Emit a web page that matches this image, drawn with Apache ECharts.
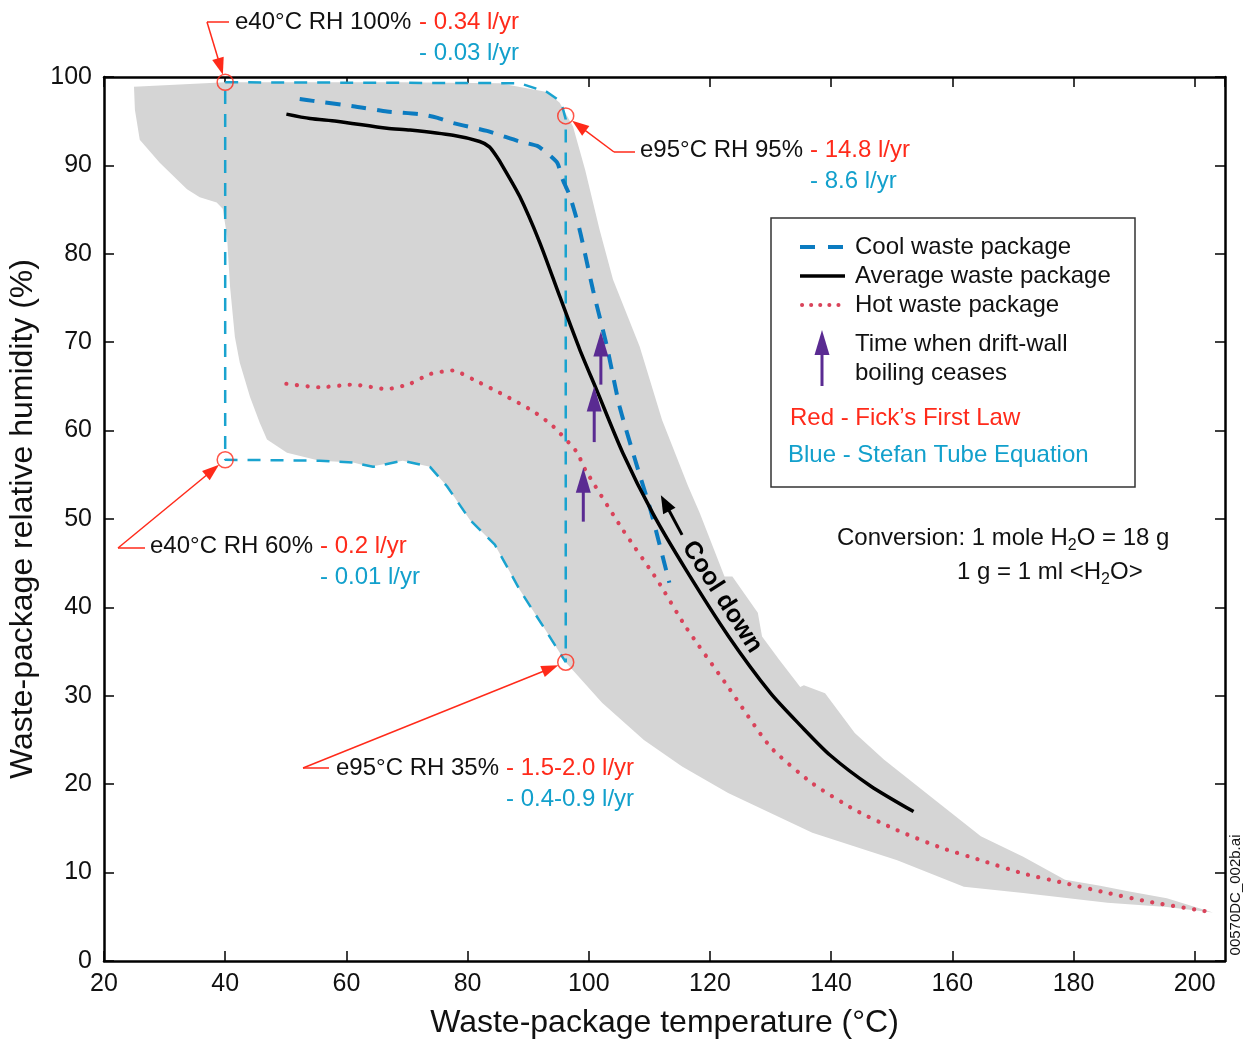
<!DOCTYPE html>
<html><head><meta charset="utf-8">
<script src="https://cdn.jsdelivr.net/npm/echarts@6/dist/echarts.min.js"></script>
<style>html,body{margin:0;padding:0;background:#fff}#c{width:1247px;height:1040px}</style>
</head><body><div id="c"></div>
<script>
// ---------- data ----------
const envelopeTemp = [24.95,40,68.8,85.3,93.1,95.2,97.4,99.4,101.8,104.0,108.4,112.1,116.4,118.3,122.4,123.7,127.9,128.6,131.4,134.9,135.5,139.0,143.9,148.7,156.4,164.7,171.7,178.6,184.4,189.0,195.4,203.0,
  195.4,185.6,171.7,161.9,150.9,136.9,123.0,115.4,109.1,102.2,96.2,92.8,88.6,84.5,80.4,76.6,73.8,69.3,63.9,61.1,55.6,50.2,46.9,45.7,44.1,42.4,41.6,40.8,40.3,39.6,38.6,35.8,33.7,29.2,25.9,25.1];
const envelopeRH = [98.9,99.4,99.4,99.3,98.3,97.1,94.4,89.5,82.7,77.1,69.5,61.2,53.7,50.7,43.5,43.5,39.4,36.7,34.1,31.0,31.2,30.3,25.8,22.8,18.6,14.1,11.8,9.2,8.5,7.9,7.1,5.5,
  6.1,6.6,7.7,8.4,11.4,14.5,19.0,22.0,25.0,29.2,33.8,37.5,42.0,47.1,49.9,53.7,55.9,56.6,55.9,56.4,56.6,57.5,59.0,60.9,63.8,67.7,70.6,76.3,82.0,85.1,85.8,86.4,87.3,90.3,92.9,96.3];

const boxTemp = [40,88.6,93.1,94.8,95.7,96.2,96.2,92.8,88.6,84.5,80.4,76.6,73.8,69.3,64.4,61.1,55.6,40,40];
const boxRH   = [99.4,99.3,98.3,97.5,96.5,95.2,33.8,37.5,42.0,47.1,49.9,53.7,55.9,56.6,55.9,56.4,56.6,56.7,99.4];

const coolTemp = [52.3,54.5,61.1,66.7,72.1,74.9,77.6,83.2,88.6,91.5,93.1,94.8,95.7,96.9,98.5,100.7,103.0,105.1,108.0,110.2,113.3];
const coolRH   = [97.5,97.3,96.7,96.1,95.8,95.4,94.8,93.9,92.7,92.2,91.4,90.3,88.4,86.5,82.7,75.9,69.5,62.7,55.9,51.0,42.8];

const avgTemp = [50.1,54.0,58.4,66.7,70.5,77.6,82.0,83.6,84.8,85.8,88.6,91.9,95.2,98.5,101.3,105.6,110.6,116.0,123.0,130.0,135.0,139.8,146.5,153.6];
const avgRH   = [95.8,95.3,95.0,94.2,94.0,93.4,92.7,92.1,91.0,89.9,86.5,81.3,75.2,69.2,64.6,57.5,50.6,44.3,36.8,30.3,26.6,23.3,19.8,16.9];

const hotTemp = [50.1,55.6,61.1,66.7,70.5,73.8,77.6,80.9,85.8,90.8,94.1,98.0,99.4,105.6,111.3,116.0,123.0,130.0,136.9,143.9,150.9,157.8,164.7,171.7,178.6,185.6,192.5,203.0];
const hotRH   = [65.3,64.9,65.2,64.7,65.3,66.4,66.8,65.8,64.1,62.2,60.5,57.6,55.6,48.8,43.1,37.8,31.0,24.2,20.1,17.1,14.8,12.9,11.4,9.9,8.8,7.7,6.7,5.5];

// time when drift-wall boiling ceases (arrows)
const boilTemp   = [102.0,100.9,99.1];
const boilTailRH = [65.2,58.7,49.7];
const boilTipRH  = [71.2,65.0,55.8];

// cool-down arrow
const coolDownTail = [115.4,48.2];
const coolDownTip  = [111.9,52.7];

// annotated points
const markerTemp = [40,96.2,40,96.2];
const markerRH   = [99.4,95.6,56.7,33.8];
const markerLabel = ['e40°C RH 100%','e95°C RH 95%','e40°C RH 60%','e95°C RH 35%'];
const fickRate   = ['- 0.34 l/yr','- 14.8 l/yr','- 0.2 l/yr','- 1.5-2.0 l/yr'];
const stefanRate = ['- 0.03 l/yr','- 8.6 l/yr','- 0.01 l/yr','- 0.4-0.9 l/yr'];

// ---------- styling ----------
const F = '"Liberation Sans", Arial, Helvetica, sans-serif';
const RED = '#ff2a1a', CYAN = '#12a0cc', BOX = '#1aa3cf', COOL = '#0b7bc0', HOT = '#d9435a', PURPLE = '#5a2b92';
const FS = 24;

const chart = echarts.init(document.getElementById('c'), null, {renderer:'canvas'});

function arrowRender(color, lw, hl, hw){
  return function(params, api){
    const p1 = api.coord([api.value(0), api.value(1)]);
    const p2 = api.coord([api.value(2), api.value(3)]);
    const dx=p2[0]-p1[0], dy=p2[1]-p1[1], L=Math.hypot(dx,dy), ux=dx/L, uy=dy/L;
    const bx=p2[0]-ux*hl, by=p2[1]-uy*hl;
    return {type:'group', children:[
      {type:'line', shape:{x1:p1[0],y1:p1[1],x2:bx+ux*2,y2:by+uy*2}, style:{stroke:color,lineWidth:lw}},
      {type:'polygon', shape:{points:[p2,[bx-uy*hw,by+ux*hw],[bx+uy*hw,by-ux*hw]]}, style:{fill:color}}
    ]};
  };
}

const axisLine = {show:true,onZero:false,lineStyle:{color:'#000',width:2.5}};
const axisTick = {show:true,inside:true,length:10,lineStyle:{color:'#000',width:1.5}};

const option = {
  animation:false,
  backgroundColor:'#fff',
  grid:{left:104,right:22,top:77,bottom:79,containLabel:false,outerBoundsMode:'none'},
  xAxis:[{
    type:'value',min:20,max:205,interval:20,position:'bottom',
    axisLine,axisTick,splitLine:{show:false},
    axisLabel:{fontSize:25,color:'#111',margin:11,fontFamily:F,showMaxLabel:false,formatter:v=>(v%20===0?String(v):'')},
    name:'Waste-package temperature (°C)',nameLocation:'middle',nameGap:46,
    nameTextStyle:{fontSize:32,color:'#111',fontFamily:F}
  },{
    type:'value',min:20,max:205,interval:20,position:'top',
    axisLine,axisTick,splitLine:{show:false},axisLabel:{show:false}
  }],
  yAxis:[{
    type:'value',min:0,max:100,interval:10,position:'left',
    axisLine,axisTick,splitLine:{show:false},
    axisLabel:{fontSize:25,color:'#111',margin:12,fontFamily:F},
    name:'Waste-package relative humidity (%)',nameLocation:'middle',nameGap:52,
    nameTextStyle:{fontSize:32,color:'#111',fontFamily:F}
  },{
    type:'value',min:0,max:100,interval:10,position:'right',
    axisLine,axisTick,splitLine:{show:false},axisLabel:{show:false}
  }],
  series:[
    {type:'custom',z:1,silent:true,
     data:envelopeTemp.map((t,i)=>[t,envelopeRH[i]]),encode:{x:0,y:1},
     renderItem:function(params,api){
       if(params.dataIndex!==0) return null;
       const pts = envelopeTemp.map((t,i)=>api.coord([t,envelopeRH[i]]));
       return {type:'polygon',shape:{points:pts},style:{fill:'#d5d5d5'}};
     }},
    {type:'line',z:2,data:boxTemp.map((t,i)=>[t,boxRH[i]]),showSymbol:false,
     lineStyle:{color:BOX,width:2.5,type:[13,10]}},
    {type:'line',z:3,data:hotTemp.map((t,i)=>[t,hotRH[i]]),showSymbol:false,smooth:0.2,
     lineStyle:{color:HOT,width:4.2,type:[0.1,10.5],cap:'round'}},
    {type:'line',z:3,data:coolTemp.map((t,i)=>[t,coolRH[i]]),showSymbol:false,smooth:0.2,
     lineStyle:{color:COOL,width:4,type:[15,11]}},
    {type:'line',z:4,data:avgTemp.map((t,i)=>[t,avgRH[i]]),showSymbol:false,smooth:0.25,
     lineStyle:{color:'#000',width:3.5}},
    {type:'custom',z:5,silent:true,
     data:boilTemp.map((t,i)=>[t,boilTailRH[i],t,boilTipRH[i]]),encode:{x:[0,2],y:[1,3]},
     renderItem:arrowRender(PURPLE,3,25,7.5)},
    {type:'custom',z:5,silent:true,
     data:[[coolDownTail[0],coolDownTail[1],coolDownTip[0],coolDownTip[1]]],encode:{x:[0,2],y:[1,3]},
     renderItem:arrowRender('#000',3,18,7)},
    {type:'scatter',z:6,silent:true,data:markerTemp.map((t,i)=>[t,markerRH[i]]),
     symbol:'circle',symbolSize:16,itemStyle:{color:'rgba(0,0,0,0)',borderColor:RED,borderWidth:1.5}}
  ]
};
chart.setOption(option);

// ---------- annotations and legend (graphic) ----------
const g = [];
function txt(x,y,text,color,size,extra){
  g.push(Object.assign({type:'text',x:x,y:y,z:50,style:{text:text,fill:color,font:`${size||FS}px ${F}`,textAlign:'left',textVerticalAlign:'middle'}},extra||{}));
}
function seg(x1,y1,x2,y2,color,w,dash){
  g.push({type:'line',z:50,shape:{x1,y1,x2,y2},style:{stroke:color,lineWidth:w,lineDash:dash||null}});
}
function head(tip,ux,uy,hl,hw,color){
  const bx=tip[0]-ux*hl, by=tip[1]-uy*hl;
  g.push({type:'polygon',z:50,shape:{points:[tip,[bx-uy*hw,by+ux*hw],[bx+uy*hw,by-ux*hw]]},style:{fill:color}});
}

// leader elbows: [elbow x, text-side x, y]
const leaders = [[207,229,22],[614,635,152],[118,145,548],[303,329,768]];
const textPos = [[235,22,419,53],[640,150,810,181],[150,546,320,577],[336,768,506,799]];
for(let i=0;i<4;i++){
  const c = chart.convertToPixel({xAxisIndex:0,yAxisIndex:0},[markerTemp[i],markerRH[i]]);
  const [ex,tx,ly] = leaders[i];
  seg(ex,ly,tx,ly,RED,1.5);
  const dx=c[0]-ex, dy=c[1]-ly, L=Math.hypot(dx,dy), ux=dx/L, uy=dy/L;
  const tip=[c[0]-ux*8,c[1]-uy*8];
  seg(ex,ly,tip[0]-ux*10,tip[1]-uy*10,RED,1.5);
  head(tip,ux,uy,17,6,RED);
  const [lx,ly1,rx,ly2] = textPos[i];
  txt(lx,ly1,markerLabel[i],'#111');
  txt(rx,ly1,fickRate[i],RED);
  txt(rx,ly2,stefanRate[i],CYAN);
}

// legend box
g.push({type:'rect',z:40,shape:{x:771,y:218,width:364,height:269},style:{fill:'#fff',stroke:'#333',lineWidth:1.5}});
seg(800,247,845,247,COOL,4,[15,13]);
seg(800,276,845,276,'#000',3.5);
g.push({type:'line',z:50,shape:{x1:802,y1:305,x2:845,y2:305},style:{stroke:HOT,lineWidth:4,lineDash:[0.1,9],lineCap:'round'}});
txt(855,247,'Cool waste package','#111');
txt(855,276,'Average waste package','#111');
txt(855,305,'Hot waste package','#111');
seg(822,386,822,350,PURPLE,3);
head([822,330],0,-1,25,7.5,PURPLE);
txt(855,344,'Time when drift-wall','#111');
txt(855,373,'boiling ceases','#111');
txt(790,418,'Red - Fick’s First Law',RED);
txt(788,455,'Blue - Stefan Tube Equation',CYAN);

// conversion note
const rich = {a:{font:`${FS}px ${F}`,fill:'#111',lineHeight:32,verticalAlign:'middle'},s:{font:`16px ${F}`,fill:'#111',lineHeight:16,verticalAlign:'bottom'}};
g.push({type:'text',z:50,x:837,y:538,style:{text:'{a|Conversion: 1 mole H}{s|2}{a|O = 18 g}',rich,textVerticalAlign:'middle'}});
g.push({type:'text',z:50,x:957,y:572,style:{text:'{a|1 g = 1 ml <H}{s|2}{a|O>}',rich,textVerticalAlign:'middle'}});

// cool down label
g.push({type:'text',z:50,x:722,y:597,rotation:-1.0,style:{text:'Cool down',fill:'#000',font:`bold 25px ${F}`,textAlign:'center',textVerticalAlign:'middle'}});

// file id
g.push({type:'text',z:50,x:1236,y:895,rotation:Math.PI/2,style:{text:'00570DC_002b.ai',fill:'#111',font:`15px ${F}`,textAlign:'center',textVerticalAlign:'middle'}});

chart.setOption({graphic:g});
</script>
</body></html>
